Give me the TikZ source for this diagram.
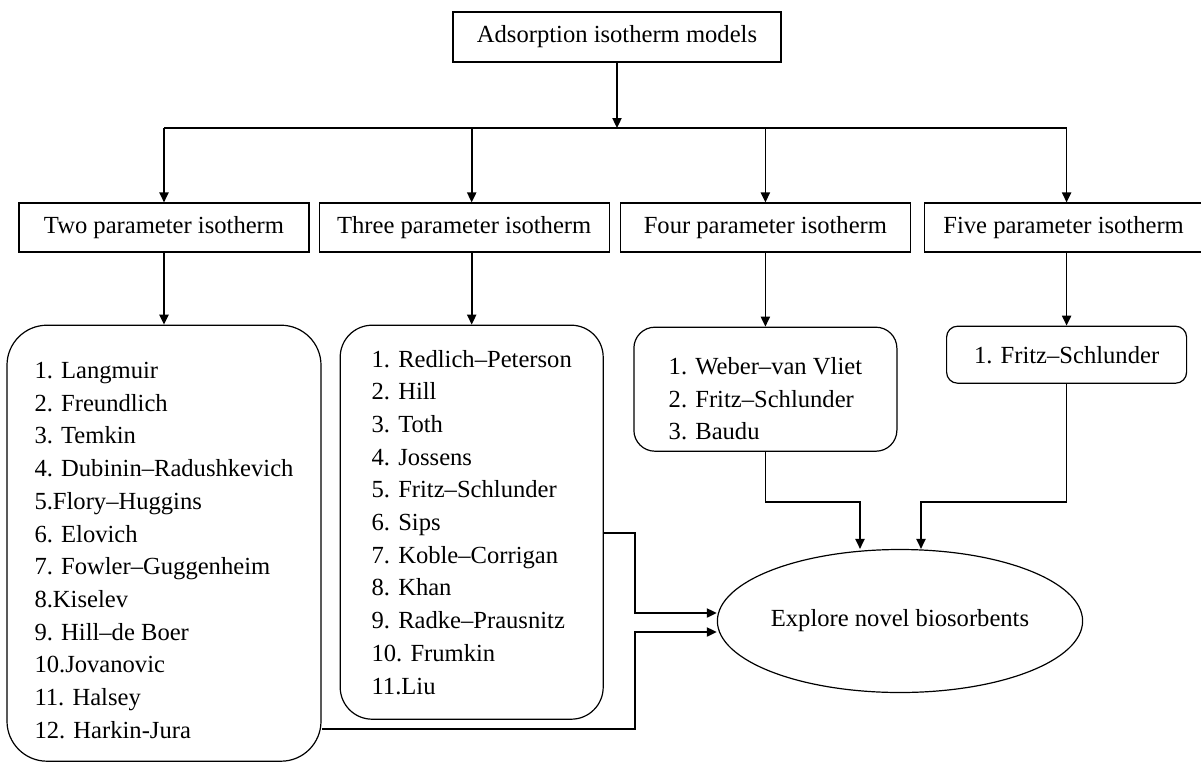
\documentclass[tikz,border=0pt]{standalone}
\usepackage{fontspec}
\setmainfont{Liberation Serif}
\usepackage{tikz}
\usetikzlibrary{arrows.meta,positioning,shapes.geometric,calc}

\begin{document}
\begin{tikzpicture}[
  x=0.5pt, y=-0.5pt,
  font=\fontsize{12.3}{16.35}\selectfont,
  hdr/.style={draw, line width=0.6pt, minimum width=145pt, minimum height=24.5pt, inner sep=0pt},
  lst/.style={draw, line width=0.6pt, rounded corners=#1, align=left, inner sep=0pt},
  arr/.style={-{Triangle[length=5pt,width=4.6pt]}, line width=0.8pt},
  wire/.style={line width=0.8pt}
]
\useasboundingbox (0,0) rectangle (1201,762);
\node[hdr, minimum width=164pt, minimum height=25pt] (top) at (617,37) {Adsorption isotherm models};
\coordinate (bus) at (617,128);
\node[hdr] (two) at (164,227.5) {Two parameter isotherm};
\node[hdr, right=4.5pt of two] (three) {Three parameter isotherm};
\node[hdr, right=5pt of three] (four) {Four parameter isotherm};
\node[hdr, right=6.5pt of four, minimum width=139pt] (five) {Five parameter isotherm};
\node[lst=20pt, below=36pt of two, minimum width=157pt, minimum height=218pt] (twol)
  {\rule{0pt}{15.4pt}1. Langmuir\\2. Freundlich\\3. Temkin\\4. Dubinin–Radushkevich\\5.Flory–Huggins\\6. Elovich\\
   7. Fowler–Guggenheim\\8.Kiselev\\9. Hill–de Boer\\10.Jovanovic\\11. Halsey\\12. Harkin-Jura};
\node[lst=16pt, below=36pt of three, xshift=3.75pt, minimum width=131.5pt, minimum height=197pt] (threel)
  {1. Redlich–Peterson\\2. Hill\\3. Toth\\4. Jossens\\5. Fritz–Schlunder\\6. Sips\\
   7. Koble–Corrigan\\8. Khan\\9. Radke–Prausnitz\\10. Frumkin\\11.Liu};
\node[lst=10.5pt, below=37pt of four, minimum width=131.5pt, minimum height=62pt] (fourl)
  {\rule{0pt}{18pt}1. Weber–van Vliet\\2. Fritz–Schlunder\\3. Baudu};
\node[lst=5.5pt, below=36.5pt of five, xshift=1.5pt, minimum width=120pt, minimum height=28.5pt] (fivel)
  {1. Fritz–Schlunder};
\node[ellipse, draw, line width=0.6pt, minimum width=170pt, minimum height=71.5pt, inner sep=0pt] (bio)
  at (900,621) {Explore novel biosorbents};
% tree
\draw[arr] (top.south) -- (top.south |- bus);
\draw[wire] (twol.north |- bus) -- (fivel.north |- bus);
\draw[arr] (twol.north |- bus) -- (two.north -| twol.north);
\draw[arr] (threel.north |- bus) -- (three.north -| threel.north);
\draw[arr] (fourl.north |- bus) -- (four.north -| fourl.north);
\draw[arr] (fivel.north |- bus) -- (five.north -| fivel.north);
\draw[arr] (two.south -| twol.north) -- (twol.north);
\draw[arr] (three.south -| threel.north) -- (threel.north);
\draw[arr] (four.south -| fourl.north) -- (fourl.north);
\draw[arr] (five.south -| fivel.north) -- (fivel.north);
% into the ellipse
\coordinate (jt) at (635,613);
\coordinate (jb) at (635,632);
\draw[arr] ($(threel.east)+(0,-5.5pt)$) -| (jt) -- (jt -| bio.west);
\draw[arr] ($(twol.south east)+(0,16.5pt)$) -| (jb) -- (jb -| bio.west);
\draw[arr] (fourl.south) -- ++(0,-25pt) -| ($(bio.north)+(-20pt,0)$);
\draw[arr] (fivel.south) -- ++(0,-59pt) -| ($(bio.north)+(10.5pt,0)$);
\end{tikzpicture}
\end{document}
